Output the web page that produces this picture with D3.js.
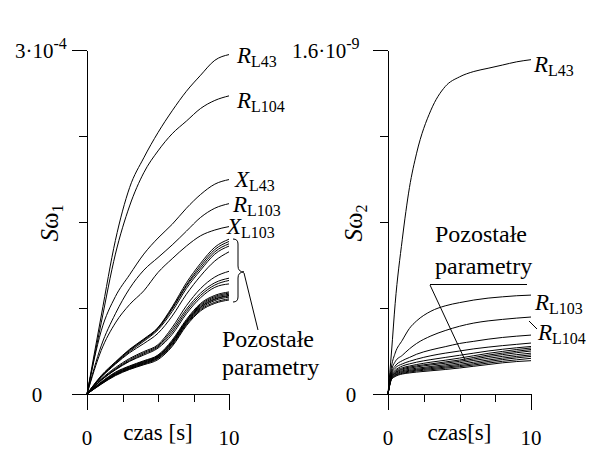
<!DOCTYPE html>
<html>
<head>
<meta charset="utf-8">
<script src="https://cdn.jsdelivr.net/npm/d3@7"></script>
<style>
  body { margin: 0; background: #fff; }
  svg { display: block; }
  .curve { fill: none; stroke: #000; stroke-width: 1; }
  .axis path, .axis line { stroke: #000; stroke-width: 1; shape-rendering: crispEdges; }
</style>
</head>
<body>
<svg id="chart" width="591" height="455"></svg>
<script>
// time grids [s]
const timeLeft = [0, 1, 2, 3, 4, 5, 6, 7, 8, 9, 10];
const timeRight = [0, 0.25, 0.5, 1, 1.5, 2, 3, 4, 5, 6, 7, 8, 9, 10];

// left panel: S_omega1, values in 1e-4
const leftRL43  = [0, 0.68, 1.34, 1.80, 2.06, 2.28, 2.47, 2.64, 2.78, 2.91, 2.96];
const leftRL104 = [0, 0.62, 1.22, 1.64, 1.93, 2.12, 2.27, 2.38, 2.49, 2.56, 2.60];
const leftXL43  = [0, 0.55, 0.85, 1.04, 1.22, 1.36, 1.48, 1.62, 1.74, 1.83, 1.87];
const leftRL103 = [0, 0.42, 0.70, 0.92, 1.08, 1.19, 1.30, 1.42, 1.54, 1.62, 1.66];
const leftXL103 = [0, 0.38, 0.62, 0.78, 0.90, 1.06, 1.18, 1.29, 1.38, 1.43, 1.46];
const leftOthers = [
  [0, 0.16, 0.28, 0.39, 0.48, 0.58, 0.76, 0.97, 1.14, 1.28, 1.35],
  [0, 0.155, 0.275, 0.385, 0.475, 0.575, 0.75, 0.95, 1.12, 1.26, 1.33],
  [0, 0.15, 0.27, 0.38, 0.47, 0.57, 0.74, 0.94, 1.10, 1.24, 1.31],
  [0, 0.15, 0.265, 0.37, 0.46, 0.56, 0.72, 0.92, 1.08, 1.22, 1.29],
  [0, 0.145, 0.26, 0.36, 0.44, 0.53, 0.68, 0.87, 1.03, 1.16, 1.24],
  [0, 0.13, 0.23, 0.31, 0.37, 0.43, 0.58, 0.77, 0.92, 1.02, 1.07],
  [0, 0.125, 0.22, 0.30, 0.36, 0.42, 0.56, 0.74, 0.88, 0.97, 1.01],
  [0, 0.12, 0.215, 0.29, 0.35, 0.41, 0.54, 0.72, 0.86, 0.95, 0.99],
  [0, 0.12, 0.21, 0.285, 0.34, 0.40, 0.52, 0.70, 0.84, 0.93, 0.96],
  [0, 0.105, 0.19, 0.245, 0.29, 0.34, 0.47, 0.65, 0.79, 0.86, 0.89],
  [0, 0.10, 0.185, 0.24, 0.285, 0.335, 0.46, 0.64, 0.78, 0.85, 0.88],
  [0, 0.098, 0.18, 0.235, 0.28, 0.33, 0.455, 0.635, 0.77, 0.84, 0.87],
  [0, 0.095, 0.175, 0.23, 0.275, 0.325, 0.45, 0.63, 0.76, 0.83, 0.86],
  [0, 0.093, 0.172, 0.227, 0.27, 0.32, 0.44, 0.62, 0.755, 0.825, 0.855],
  [0, 0.09, 0.168, 0.222, 0.265, 0.315, 0.435, 0.615, 0.745, 0.815, 0.845],
  [0, 0.087, 0.165, 0.218, 0.26, 0.31, 0.425, 0.605, 0.735, 0.80, 0.83],
  [0, 0.085, 0.16, 0.214, 0.255, 0.30, 0.415, 0.595, 0.725, 0.79, 0.82]
];

// right panel: S_omega2, values in 1e-9
const rightRL43  = [0, 0.20, 0.42, 0.72, 0.96, 1.12, 1.32, 1.43, 1.475, 1.50, 1.515, 1.53, 1.545, 1.555];
const rightRL103 = [0, 0.13, 0.19, 0.25, 0.305, 0.34, 0.385, 0.41, 0.425, 0.437, 0.446, 0.452, 0.457, 0.46];
const rightRL104 = [0, 0.11, 0.15, 0.18, 0.21, 0.235, 0.27, 0.295, 0.315, 0.33, 0.34, 0.347, 0.353, 0.358];
const rightOthers = [
  [0, 0.10, 0.13, 0.155, 0.17, 0.185, 0.205, 0.22, 0.235, 0.245, 0.255, 0.263, 0.269, 0.274],
  [0, 0.095, 0.12, 0.14, 0.152, 0.162, 0.178, 0.19, 0.20, 0.21, 0.218, 0.225, 0.231, 0.237],
  [0, 0.09, 0.11, 0.13, 0.14, 0.148, 0.16, 0.17, 0.18, 0.19, 0.20, 0.208, 0.215, 0.221],
  [0, 0.085, 0.105, 0.122, 0.13, 0.137, 0.148, 0.157, 0.167, 0.178, 0.189, 0.198, 0.207, 0.214],
  [0, 0.082, 0.10, 0.117, 0.125, 0.131, 0.14, 0.149, 0.158, 0.17, 0.181, 0.19, 0.199, 0.207],
  [0, 0.08, 0.097, 0.113, 0.12, 0.126, 0.135, 0.143, 0.152, 0.163, 0.174, 0.183, 0.192, 0.20],
  [0, 0.078, 0.094, 0.108, 0.115, 0.12, 0.128, 0.136, 0.145, 0.156, 0.166, 0.175, 0.183, 0.19],
  [0, 0.075, 0.09, 0.104, 0.11, 0.115, 0.123, 0.13, 0.138, 0.148, 0.158, 0.167, 0.175, 0.182],
  [0, 0.073, 0.087, 0.10, 0.106, 0.111, 0.118, 0.125, 0.132, 0.141, 0.151, 0.16, 0.168, 0.175],
  [0, 0.07, 0.084, 0.096, 0.102, 0.107, 0.113, 0.12, 0.127, 0.135, 0.144, 0.152, 0.159, 0.166],
  [0, 0.068, 0.081, 0.093, 0.098, 0.102, 0.108, 0.114, 0.121, 0.129, 0.137, 0.145, 0.151, 0.155]
];

const xTicks = [0, 2.5, 5, 7.5, 10];
const leftYTicks = [0, 0.75, 1.5, 2.25, 3];
const rightYTicks = [0, 0.4, 0.8, 1.2, 1.6];

const svg = d3.select("#chart")
  .attr("font-family", "'Liberation Serif', 'Times New Roman', serif");

const panels = [
  {
    x: d3.scaleLinear().domain([0, 10]).range([87, 229]),
    y: d3.scaleLinear().domain([0, 3]).range([394, 50]),
    yTicks: leftYTicks, time: timeLeft,
    series: [leftRL43, leftRL104, leftXL43, leftRL103, leftXL103, ...leftOthers],
    top: ["3·10", "-4"], topX: 15, zeroX: 37, idx: "1", labelX: 58, xTitle: "czas [s]"
  },
  {
    x: d3.scaleLinear().domain([0, 10]).range([388, 531]),
    y: d3.scaleLinear().domain([0, 1.6]).range([394, 50]),
    yTicks: rightYTicks, time: timeRight,
    series: [rightRL43, rightRL103, rightRL104, ...rightOthers],
    top: ["1.6·10", "-9"], topX: 292, zeroX: 351, idx: "2", labelX: 362, xTitle: "czas[s]"
  }
];

panels.forEach(p => {
  const [x0, x1] = p.x.range();
  const yBase = p.y(0);

  const gy = svg.append("g").attr("class", "axis")
    .attr("transform", `translate(${x0},0)`)
    .call(d3.axisLeft(p.y).tickValues(p.yTicks).tickSize(8).tickSizeOuter(0).tickFormat(""));
  gy.selectAll(".tick line").filter((d, i, n) => i === 0 || i === n.length - 1).attr("x2", -15);

  const gx = svg.append("g").attr("class", "axis")
    .attr("transform", `translate(0,${yBase})`)
    .call(d3.axisBottom(p.x).tickValues(xTicks).tickSize(8).tickSizeOuter(0).tickFormat(""));
  gx.selectAll(".tick line").filter((d, i, n) => i === 0 || i === n.length - 1).attr("y2", 16);

  const line = d3.line()
    .x((d, i) => p.x(p.time[i]))
    .y(d => p.y(d))
    .curve(d3.curveMonotoneX);
  svg.append("g").selectAll("path").data(p.series).join("path")
    .attr("class", "curve")
    .attr("d", line);

  // y tick labels
  const top = svg.append("text").attr("x", p.topX).attr("y", 58).attr("font-size", 21);
  top.append("tspan").text(p.top[0]);
  top.append("tspan").attr("dy", -9).attr("font-size", 16).text(p.top[1]);
  svg.append("text").attr("x", p.zeroX).attr("y", 402).attr("font-size", 21)
    .attr("text-anchor", "middle").text("0");

  // x tick labels and title
  svg.append("text").attr("x", x0).attr("y", 445).attr("font-size", 21)
    .attr("text-anchor", "middle").text("0");
  svg.append("text").attr("x", x1).attr("y", 445).attr("font-size", 21)
    .attr("text-anchor", "middle").text("10");
  svg.append("text").attr("x", (x0 + x1) / 2).attr("y", 440).attr("font-size", 23)
    .attr("text-anchor", "middle").text(p.xTitle);

  // y title S omega_n
  const yt = svg.append("text")
    .attr("transform", `translate(${p.labelX},223) rotate(-90)`)
    .attr("text-anchor", "middle").attr("font-size", 25);
  yt.append("tspan").attr("font-style", "italic").text("S");
  yt.append("tspan").text("ω");
  yt.append("tspan").attr("dy", 5).attr("font-size", 16).text(p.idx);
});

function subLabel(x, y, main, sub, sz = 23) {
  const t = svg.append("text").attr("x", x).attr("y", y).attr("font-size", sz);
  t.append("tspan").attr("font-style", "italic").text(main);
  t.append("tspan").attr("dy", 4).attr("font-size", 16).text(sub);
}

// left panel annotations
subLabel(237, 63, "R", "L43");
subLabel(237, 108, "R", "L104");
subLabel(235, 187, "X", "L43");
subLabel(233, 212, "R", "L103");
subLabel(227, 234, "X", "L103");

// brace over the remaining curves
svg.append("path").attr("class", "curve")
  .attr("d", "M233,239 Q238,239 238,244 L238,266 Q238,272 244,272 Q238,272 238,278 L238,297 Q238,302 233,302");
svg.append("line").attr("x1", 244).attr("y1", 273).attr("x2", 258).attr("y2", 330)
  .attr("stroke", "#000");
svg.append("text").attr("x", 222).attr("y", 347).attr("font-size", 24).text("Pozostałe");
svg.append("text").attr("x", 222).attr("y", 375).attr("font-size", 24).text("parametry");

// right panel annotations
subLabel(534, 72, "R", "L43");
subLabel(535, 310, "R", "L103");
subLabel(538, 340, "R", "L104");
svg.append("line").attr("x1", 529).attr("y1", 321).attr("x2", 537).attr("y2", 329).attr("stroke", "#000");
svg.append("text").attr("x", 435).attr("y", 242).attr("font-size", 24).text("Pozostałe");
svg.append("text").attr("x", 435).attr("y", 274).attr("font-size", 24).text("parametry");
svg.append("line").attr("x1", 430).attr("y1", 284.5).attr("x2", 527).attr("y2", 284.5).attr("stroke", "#000");
svg.append("line").attr("x1", 430).attr("y1", 285).attr("x2", 465).attr("y2", 360).attr("stroke", "#000");
</script>
</body>
</html>
